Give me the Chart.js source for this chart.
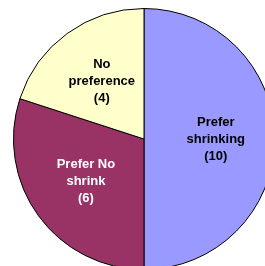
<!DOCTYPE html>
<html>
<head>
<meta charset="utf-8">
<script src="https://cdn.jsdelivr.net/npm/chart.js@4"></script>
<style>
    html, body { margin: 0; padding: 0; background: #fff; overflow: hidden; width: 265px; height: 266px; }
    #wrap { position: absolute; left: 0; top: 0; width: 290px; height: 290px; }
</style>
</head>
<body>
<div id="wrap"><canvas id="pieChart" width="290" height="290"></canvas></div>
<script>
// Survey answers
const categories = [['Prefer', 'shrinking'], ['Prefer No', 'shrink'], ['No', 'preference']];
const counts = [10, 6, 4];
const sliceColors = ['#9999FF', '#993366', '#FFFFCC'];
const textColors = ['#000000', '#FFFFFF', '#000000'];

// Draw the labels inside each slice
const sliceLabels = {
    id: 'sliceLabels',
    afterDatasetsDraw(chart) {
        const ctx = chart.ctx;
        const meta = chart.getDatasetMeta(0);
        ctx.save();
        ctx.font = 'bold 13px "Liberation Sans", Arial, sans-serif';
        ctx.textAlign = 'center';
        ctx.textBaseline = 'middle';
        meta.data.forEach((arc, i) => {
            const p = arc.getProps(['x', 'y', 'startAngle', 'endAngle', 'outerRadius'], true);
            const mid = (p.startAngle + p.endAngle) / 2;
            const r = p.outerRadius * 0.55;
            const cx = p.x + Math.cos(mid) * r;
            const cy = p.y + Math.sin(mid) * r;
            const lines = [...categories[i], '(' + counts[i] + ')'];
            const lh = 17;
            ctx.fillStyle = textColors[i];
            lines.forEach((t, j) => {
                ctx.fillText(t, cx, cy + (j - (lines.length - 1) / 2) * lh);
            });
        });
        ctx.restore();
    }
};

new Chart(document.getElementById('pieChart'), {
    type: 'pie',
    data: {
        labels: categories.map(c => c.join(' ')),
        datasets: [{
            data: counts,
            backgroundColor: sliceColors,
            borderColor: '#000',
            borderWidth: 1
        }]
    },
    options: {
        responsive: false,
        animation: false,
        layout: { padding: { left: 13, top: 8, right: 15, bottom: 20 } },
        plugins: {
            legend: { display: false },
            tooltip: { enabled: false }
        }
    },
    plugins: [sliceLabels]
});
</script>
</body>
</html>
